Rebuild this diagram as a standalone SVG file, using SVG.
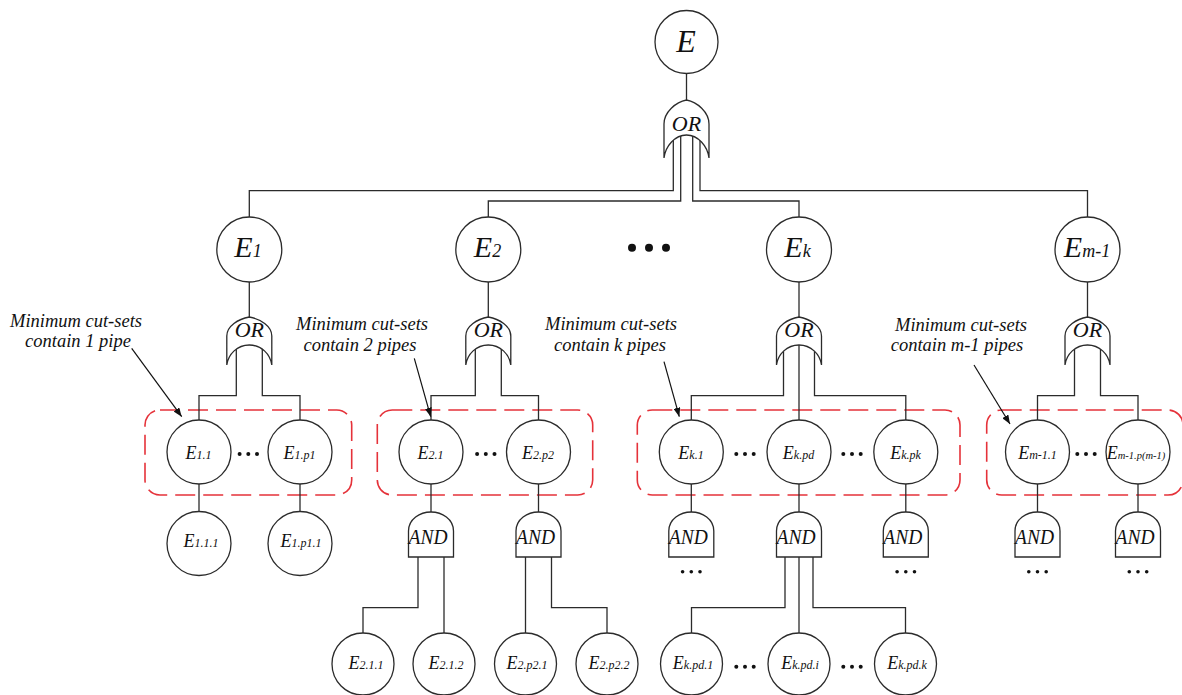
<svg xmlns="http://www.w3.org/2000/svg" width="1182" height="695" viewBox="0 0 1182 695">
<defs>
<style>
.ln{fill:none;stroke:#2b2b2b;stroke-width:1.3}
.nd{fill:#fff;stroke:#2b2b2b;stroke-width:1.3}
.box{fill:none;stroke:#e5323a;stroke-width:1.6;stroke-dasharray:20 8}
.t{font-family:"Liberation Serif","Times New Roman",serif;font-style:italic;fill:#111}
.c{text-anchor:middle}
.dot{fill:#111}
.ann{font-family:"Liberation Serif","Times New Roman",serif;font-style:italic;fill:#111;font-size:18.5px;text-anchor:middle}
.arr{fill:none;stroke:#111;stroke-width:1.2;marker-end:url(#ah)}
</style>
<marker id="ah" viewBox="0 0 10 10" refX="10" refY="5" markerWidth="9" markerHeight="7" orient="auto" markerUnits="userSpaceOnUse" preserveAspectRatio="none"><path d="M0,0 L10,5 L0,10 Z" fill="#111"/></marker>
</defs>
<rect width="1182" height="695" fill="#fff"/>

<g id="boxes">
<rect class="box" x="145" y="410" width="206.7" height="85" rx="15"/>
<rect class="box" x="377.3" y="410" width="215.4" height="85" rx="15"/>
<rect class="box" x="637.3" y="410" width="322.7" height="85" rx="15"/>
<rect class="box" x="986.7" y="410" width="196.3" height="85" rx="15"/>
</g>

<g id="connectors" class="ln">
<path d="M686.5,73.5 V100"/>
<path d="M673.3,136 V190.7 H249.3 V217"/>
<path d="M680.7,136 V201 H488.3 V217"/>
<path d="M692.7,136 V201 H799 V217"/>
<path d="M700,136 V190.7 H1087.5 V217"/>
<path d="M249.3,282 V317"/>
<path d="M488.3,282 V317"/>
<path d="M799,282 V317"/>
<path d="M1087.5,282 V317"/>
<path d="M236.3,345 V395.7 H199 V420"/>
<path d="M262.3,345 V395.7 H300 V420"/>
<path d="M475.3,345 V395.7 H431 V420"/>
<path d="M501.3,345 V395.7 H538.5 V420"/>
<path d="M783.5,345 V395.7 H691.3 V420"/>
<path d="M799,345 V420"/>
<path d="M814.5,345 V395.7 H905.8 V420"/>
<path d="M1074.5,345 V395.7 H1037.5 V420"/>
<path d="M1100.5,345 V395.7 H1138 V420"/>
<path d="M199,484 V511.5"/>
<path d="M300,484 V511.5"/>
<path d="M431,484 V512"/>
<path d="M538.5,484 V512"/>
<path d="M691.3,484 V512"/>
<path d="M799,484 V512"/>
<path d="M905.8,484 V512"/>
<path d="M1037.5,484 V512"/>
<path d="M1138,484 V512"/>
<path d="M418,557 V607.7 H363 V633"/>
<path d="M444,557 V633"/>
<path d="M525.5,557 V633"/>
<path d="M551.5,557 V607.7 H607 V633"/>
<path d="M785,557 V607.7 H691.5 V633"/>
<path d="M799,557 V633"/>
<path d="M813,557 V607.7 H905.5 V633"/>
</g>

<g id="E"><circle class="nd" cx="686.5" cy="42" r="31.5"/><text class="t c" x="686" y="52" font-size="32">E</text></g>
<g id="or0"><path class="nd" d="M664,158 L664,124 C664,112 676,102 686.5,100 C697,102 709,112 709,124 L709,158 C707.5,146 698,135 686.5,135 C675,135 665.5,146 664,158 Z"/><text class="t c" x="686.5" y="131" font-size="22">OR</text></g>

<g id="E1"><circle class="nd" cx="249.3" cy="249.5" r="32.5"/><text class="t c" x="248" y="257" font-size="30">E<tspan font-size="18">1</tspan></text></g>
<g id="E2"><circle class="nd" cx="488.3" cy="249.5" r="32.5"/><text class="t c" x="487.5" y="257" font-size="30">E<tspan font-size="18">2</tspan></text></g>
<g id="Ek"><circle class="nd" cx="799" cy="249.5" r="32.5"/><text class="t c" x="797.5" y="257" font-size="30">E<tspan font-size="18">k</tspan></text></g>
<g id="Em1"><circle class="nd" cx="1087.5" cy="249.5" r="32.5"/><text class="t c" x="1087" y="257" font-size="30">E<tspan font-size="18">m-1</tspan></text></g>

<g id="or1"><path class="nd" d="M226.8,365 L226.8,336 C226.8,326 238.3,319 249.3,317 C260.3,319 271.8,326 271.8,336 L271.8,365 C270.3,354 261.3,345 249.3,345 C237.3,345 228.3,354 226.8,365 Z"/><text class="t c" x="249.3" y="337" font-size="22">OR</text></g>
<g id="or2"><path class="nd" d="M465.8,365 L465.8,336 C465.8,326 477.3,319 488.3,317 C499.3,319 510.8,326 510.8,336 L510.8,365 C509.3,354 500.3,345 488.3,345 C476.3,345 467.3,354 465.8,365 Z"/><text class="t c" x="488.3" y="337" font-size="22">OR</text></g>
<g id="ork"><path class="nd" d="M776.5,365 L776.5,336 C776.5,326 788,319 799,317 C810,319 821.5,326 821.5,336 L821.5,365 C820,354 811,345 799,345 C787,345 778,354 776.5,365 Z"/><text class="t c" x="799" y="337" font-size="22">OR</text></g>
<g id="orm"><path class="nd" d="M1065,365 L1065,336 C1065,326 1076.5,319 1087.5,317 C1098.5,319 1110,326 1110,336 L1110,365 C1108.5,354 1099.5,345 1087.5,345 C1075.5,345 1066.5,354 1065,365 Z"/><text class="t c" x="1087.5" y="337" font-size="22">OR</text></g>

<g id="dots1" class="dot"><circle cx="632" cy="247.7" r="4"/><circle cx="649" cy="247.7" r="4"/><circle cx="666" cy="247.7" r="4"/></g>

<g id="E1_1"><circle class="nd" cx="199" cy="452" r="32"/><text class="t c" x="198.5" y="458.5" font-size="18">E<tspan font-size="12">1.1</tspan></text></g>
<g id="E1_p1"><circle class="nd" cx="300" cy="452" r="32"/><text class="t c" x="299.5" y="458.5" font-size="18">E<tspan font-size="12">1.p1</tspan></text></g>
<g id="E2_1"><circle class="nd" cx="431" cy="452" r="32"/><text class="t c" x="430.5" y="458.5" font-size="18">E<tspan font-size="12">2.1</tspan></text></g>
<g id="E2_p2"><circle class="nd" cx="538.5" cy="452" r="32"/><text class="t c" x="538" y="458.5" font-size="18">E<tspan font-size="12">2.p2</tspan></text></g>
<g id="Ek_1"><circle class="nd" cx="691.3" cy="452" r="32"/><text class="t c" x="691" y="458.5" font-size="18">E<tspan font-size="12">k.1</tspan></text></g>
<g id="Ek_pd"><circle class="nd" cx="799" cy="452" r="32"/><text class="t c" x="798.5" y="458.5" font-size="18">E<tspan font-size="12">k.pd</tspan></text></g>
<g id="Ek_pk"><circle class="nd" cx="905.8" cy="452" r="32"/><text class="t c" x="905.5" y="458.5" font-size="18">E<tspan font-size="12">k.pk</tspan></text></g>
<g id="Em1_1"><circle class="nd" cx="1037.5" cy="452" r="32"/><text class="t c" x="1037.5" y="458.5" font-size="18">E<tspan font-size="12">m-1.1</tspan></text></g>
<g id="Em1_p"><circle class="nd" cx="1138" cy="452" r="32"/><text class="t c" x="1136" y="458.5" font-size="18">E<tspan font-size="10.5">m-1.p(m-1)</tspan></text></g>

<g id="dots2" class="dot">
<circle cx="239.6" cy="454" r="2"/><circle cx="248.3" cy="454" r="2"/><circle cx="257" cy="454" r="2"/>
<circle cx="477.1" cy="454" r="2"/><circle cx="485.8" cy="454" r="2"/><circle cx="494.5" cy="454" r="2"/>
<circle cx="736.3" cy="454" r="2"/><circle cx="745" cy="454" r="2"/><circle cx="753.7" cy="454" r="2"/>
<circle cx="843.3" cy="454" r="2"/><circle cx="852" cy="454" r="2"/><circle cx="860.7" cy="454" r="2"/>
<circle cx="1077.3" cy="454" r="2"/><circle cx="1086" cy="454" r="2"/><circle cx="1094.7" cy="454" r="2"/>
</g>

<g id="E1_1_1"><circle class="nd" cx="199" cy="543.5" r="32"/><text class="t c" x="201" y="547" font-size="18">E<tspan font-size="12">1.1.1</tspan></text></g>
<g id="E1_p1_1"><circle class="nd" cx="300" cy="543.5" r="32"/><text class="t c" x="301" y="547" font-size="18">E<tspan font-size="12">1.p1.1</tspan></text></g>

<g id="and_21"><path class="nd" d="M408.5,557 L408.5,531 C408.5,519 420,512 431,512 C442,512 453.5,519 453.5,531 L453.5,557 Z"/><text class="t" x="408.5" y="544" font-size="20" textLength="39" lengthAdjust="spacingAndGlyphs">AND</text></g>
<g id="and_2p2"><path class="nd" d="M516,557 L516,531 C516,519 527.5,512 538.5,512 C549.5,512 561,519 561,531 L561,557 Z"/><text class="t" x="516" y="544" font-size="20" textLength="39" lengthAdjust="spacingAndGlyphs">AND</text></g>
<g id="and_k1"><path class="nd" d="M668.8,557 L668.8,531 C668.8,519 680.3,512 691.3,512 C702.3,512 713.8,519 713.8,531 L713.8,557 Z"/><text class="t" x="668.8" y="544" font-size="20" textLength="39" lengthAdjust="spacingAndGlyphs">AND</text></g>
<g id="and_kpd"><path class="nd" d="M776.5,557 L776.5,531 C776.5,519 788,512 799,512 C810,512 821.5,519 821.5,531 L821.5,557 Z"/><text class="t" x="776.5" y="544" font-size="20" textLength="39" lengthAdjust="spacingAndGlyphs">AND</text></g>
<g id="and_kpk"><path class="nd" d="M883.3,557 L883.3,531 C883.3,519 894.8,512 905.8,512 C916.8,512 928.3,519 928.3,531 L928.3,557 Z"/><text class="t" x="883.3" y="544" font-size="20" textLength="39" lengthAdjust="spacingAndGlyphs">AND</text></g>
<g id="and_m1"><path class="nd" d="M1015,557 L1015,531 C1015,519 1026.5,512 1037.5,512 C1048.5,512 1060,519 1060,531 L1060,557 Z"/><text class="t" x="1015" y="544" font-size="20" textLength="39" lengthAdjust="spacingAndGlyphs">AND</text></g>
<g id="and_mp"><path class="nd" d="M1115.5,557 L1115.5,531 C1115.5,519 1127,512 1138,512 C1149,512 1160.5,519 1160.5,531 L1160.5,557 Z"/><text class="t" x="1115.5" y="544" font-size="20" textLength="39" lengthAdjust="spacingAndGlyphs">AND</text></g>

<g id="dots3" class="dot">
<circle cx="682.6" cy="571.7" r="1.8"/><circle cx="691.3" cy="571.7" r="1.8"/><circle cx="700" cy="571.7" r="1.8"/>
<circle cx="897.1" cy="571.7" r="1.8"/><circle cx="905.8" cy="571.7" r="1.8"/><circle cx="914.5" cy="571.7" r="1.8"/>
<circle cx="1028.8" cy="571.7" r="1.8"/><circle cx="1037.5" cy="571.7" r="1.8"/><circle cx="1046.2" cy="571.7" r="1.8"/>
<circle cx="1129.3" cy="571.7" r="1.8"/><circle cx="1138" cy="571.7" r="1.8"/><circle cx="1146.7" cy="571.7" r="1.8"/>
</g>

<g id="E2_1_1"><circle class="nd" cx="363" cy="664" r="31"/><text class="t c" x="366" y="669" font-size="18">E<tspan font-size="12">2.1.1</tspan></text></g>
<g id="E2_1_2"><circle class="nd" cx="444" cy="664" r="31"/><text class="t c" x="446" y="669" font-size="18">E<tspan font-size="12">2.1.2</tspan></text></g>
<g id="E2_p2_1"><circle class="nd" cx="525.5" cy="664" r="31"/><text class="t c" x="527" y="669" font-size="18">E<tspan font-size="12">2.p2.1</tspan></text></g>
<g id="E2_p2_2"><circle class="nd" cx="607" cy="664" r="31"/><text class="t c" x="609" y="669" font-size="18">E<tspan font-size="12">2.p2.2</tspan></text></g>
<g id="Ek_pd_1"><circle class="nd" cx="691.5" cy="664" r="31"/><text class="t c" x="693" y="669" font-size="18">E<tspan font-size="12">k.pd.1</tspan></text></g>
<g id="Ek_pd_i"><circle class="nd" cx="799" cy="664" r="31"/><text class="t c" x="800" y="669" font-size="18">E<tspan font-size="12">k.pd.i</tspan></text></g>
<g id="Ek_pd_k"><circle class="nd" cx="905.5" cy="664" r="31"/><text class="t c" x="907" y="669" font-size="18">E<tspan font-size="12">k.pd.k</tspan></text></g>

<g id="dots4" class="dot">
<circle cx="736.3" cy="666.7" r="2"/><circle cx="745" cy="666.7" r="2"/><circle cx="753.7" cy="666.7" r="2"/>
<circle cx="843.3" cy="666.7" r="2"/><circle cx="852" cy="666.7" r="2"/><circle cx="860.7" cy="666.7" r="2"/>
</g>

<g id="ann1"><text class="ann" x="76" y="327.3">Minimum cut-sets</text><text class="ann" x="78" y="346.5">contain 1 pipe</text><line class="arr" x1="131.7" y1="348.3" x2="181.7" y2="416.7"/></g>
<g id="ann2"><text class="ann" x="362" y="330">Minimum cut-sets</text><text class="ann" x="360" y="350.5">contain 2 pipes</text><line class="arr" x1="414.3" y1="358.3" x2="430.7" y2="416.7"/></g>
<g id="ann3"><text class="ann" x="611" y="330">Minimum cut-sets</text><text class="ann" x="610" y="350.5">contain k pipes</text><line class="arr" x1="664" y1="361.7" x2="679.3" y2="416.7"/></g>
<g id="ann4"><text class="ann" x="961" y="331">Minimum cut-sets</text><text class="ann" x="957" y="351">contain m-1 pipes</text><line class="arr" x1="974" y1="365" x2="1010" y2="424"/></g>
</svg>
